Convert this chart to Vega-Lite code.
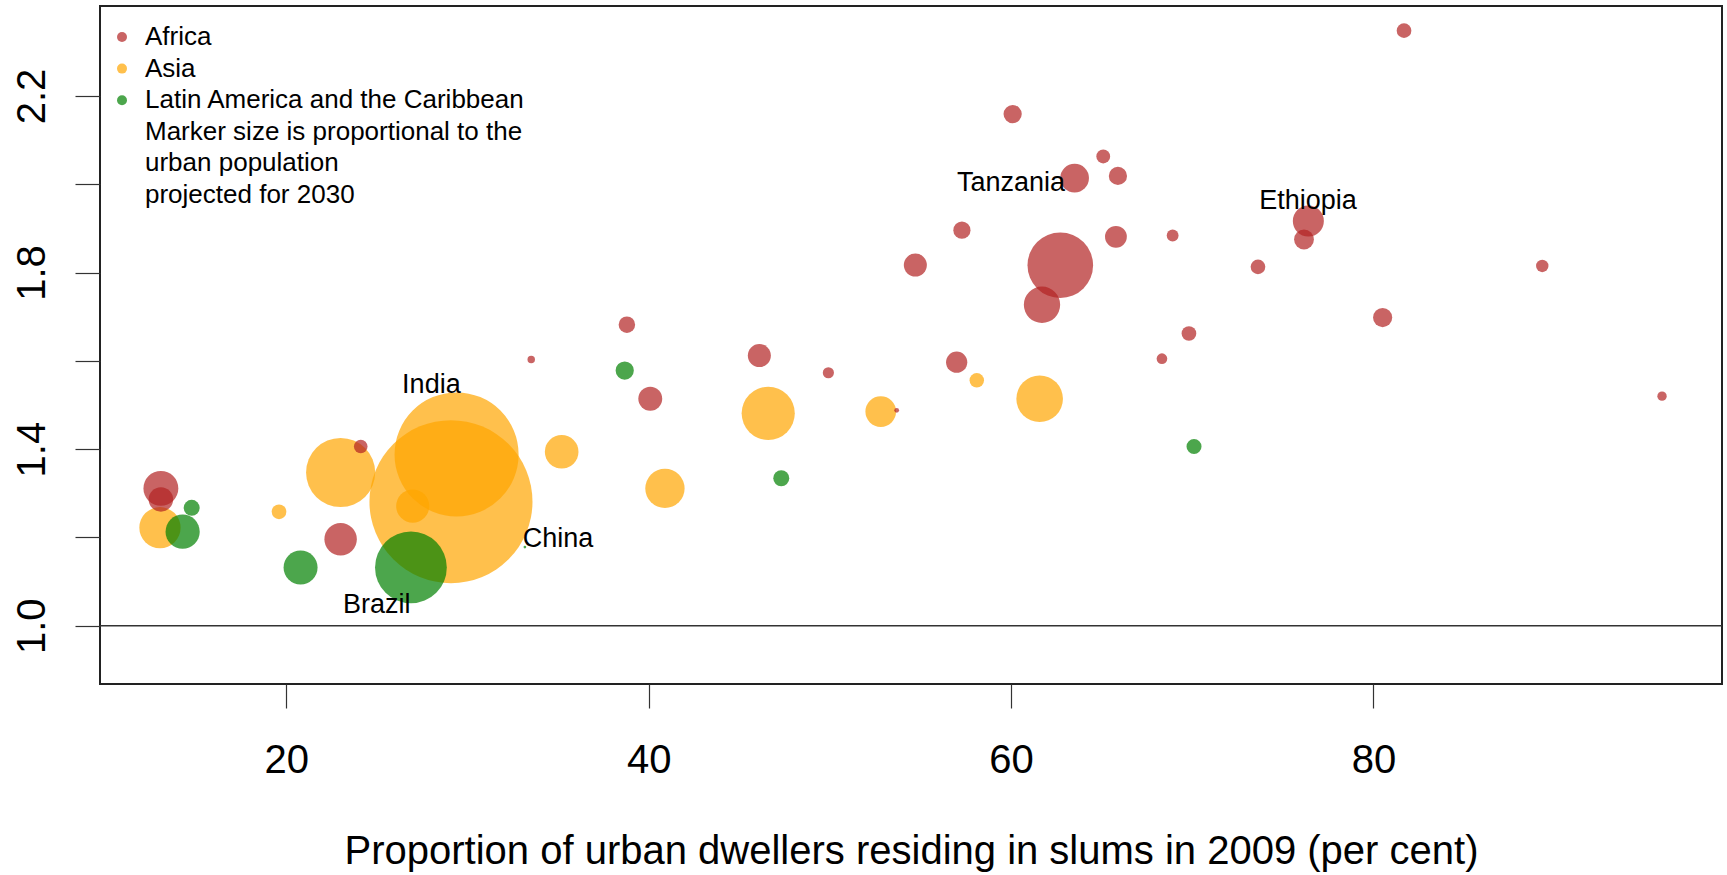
{
  "$schema": "https://vega.github.io/schema/vega-lite/v6.json",
  "width": 1622,
  "height": 678,
  "autosize": {"type": "none"},
  "padding": {"left": 100, "top": 6, "right": 5, "bottom": 191},
  "background": "white",
  "config": {
    "view": {"stroke": "#222222", "strokeWidth": 2},
    "font": "Liberation Sans",
    "axis": {"grid": false, "domain": false, "tickColor": "#333333", "tickWidth": 1.2, "labelColor": "black", "labelFont": "Liberation Sans", "titleFont": "Liberation Sans", "titleColor": "black", "titleFontWeight": "normal"}
  },
  "datasets": {
    "countries": [
      {"region": "Asia", "slum": 13.03, "growth": 1.222, "pop": 64.1},
      {"region": "Asia", "slum": 19.60, "growth": 1.258, "pop": 8.1},
      {"region": "Asia", "slum": 23.00, "growth": 1.347, "pop": 179.6},
      {"region": "Asia", "slum": 26.98, "growth": 1.271, "pop": 41.3},
      {"region": "Asia", "country": "China", "slum": 29.09, "growth": 1.281, "pop": 999.6},
      {"region": "Asia", "country": "India", "slum": 29.40, "growth": 1.388, "pop": 578.7},
      {"region": "Asia", "slum": 35.20, "growth": 1.394, "pop": 42.6},
      {"region": "Asia", "slum": 40.90, "growth": 1.311, "pop": 58.2},
      {"region": "Asia", "slum": 46.60, "growth": 1.481, "pop": 106.3},
      {"region": "Asia", "slum": 52.81, "growth": 1.485, "pop": 35.3},
      {"region": "Asia", "slum": 58.11, "growth": 1.556, "pop": 7.9},
      {"region": "Asia", "slum": 61.58, "growth": 1.514, "pop": 81.7},
      {"region": "Africa", "slum": 13.08, "growth": 1.311, "pop": 45.8},
      {"region": "Africa", "slum": 13.08, "growth": 1.286, "pop": 22.5},
      {"region": "Africa", "slum": 24.11, "growth": 1.406, "pop": 7.0},
      {"region": "Africa", "slum": 23.00, "growth": 1.196, "pop": 39.6},
      {"region": "Africa", "slum": 33.52, "growth": 1.603, "pop": 2.1},
      {"region": "Africa", "slum": 38.80, "growth": 1.682, "pop": 10.2},
      {"region": "Africa", "slum": 40.09, "growth": 1.514, "pop": 21.5},
      {"region": "Africa", "slum": 46.11, "growth": 1.612, "pop": 20.0},
      {"region": "Africa", "slum": 49.92, "growth": 1.573, "pop": 4.7},
      {"region": "Africa", "slum": 53.69, "growth": 1.488, "pop": 0.86},
      {"region": "Africa", "slum": 57.00, "growth": 1.597, "pop": 17.0},
      {"region": "Africa", "slum": 57.29, "growth": 1.896, "pop": 11.1},
      {"region": "Africa", "slum": 54.72, "growth": 1.817, "pop": 20.0},
      {"region": "Africa", "slum": 60.09, "growth": 2.159, "pop": 12.5},
      {"region": "Africa", "country": "Tanzania", "slum": 63.51, "growth": 2.014, "pop": 31.0},
      {"region": "Africa", "slum": 65.09, "growth": 2.063, "pop": 7.2},
      {"region": "Africa", "slum": 65.90, "growth": 2.019, "pop": 12.5},
      {"region": "Africa", "slum": 65.79, "growth": 1.881, "pop": 17.9},
      {"region": "Africa", "slum": 62.72, "growth": 1.8165, "pop": 161.7},
      {"region": "Africa", "slum": 61.71, "growth": 1.727, "pop": 49.6},
      {"region": "Africa", "slum": 68.92, "growth": 1.884, "pop": 5.3},
      {"region": "Africa", "slum": 73.63, "growth": 1.813, "pop": 8.1},
      {"region": "Africa", "slum": 76.17, "growth": 1.875, "pop": 14.8},
      {"region": "Africa", "country": "Ethiopia", "slum": 76.41, "growth": 1.917, "pop": 36.2},
      {"region": "Africa", "slum": 69.82, "growth": 1.662, "pop": 8.1},
      {"region": "Africa", "slum": 68.33, "growth": 1.605, "pop": 4.25},
      {"region": "Africa", "slum": 80.51, "growth": 1.698, "pop": 13.8},
      {"region": "Africa", "slum": 89.32, "growth": 1.815, "pop": 5.8},
      {"region": "Africa", "slum": 95.93, "growth": 1.520, "pop": 3.3},
      {"region": "Africa", "slum": 81.69, "growth": 2.348, "pop": 8.1},
      {"region": "Latin America and the Caribbean", "slum": 14.78, "growth": 1.267, "pop": 9.6},
      {"region": "Latin America and the Caribbean", "slum": 14.28, "growth": 1.213, "pop": 44.0},
      {"region": "Latin America and the Caribbean", "slum": 20.79, "growth": 1.132, "pop": 43.5},
      {"region": "Latin America and the Caribbean", "country": "Brazil", "slum": 26.88, "growth": 1.132, "pop": 193.7},
      {"region": "Latin America and the Caribbean", "slum": 38.68, "growth": 1.578, "pop": 12.5},
      {"region": "Latin America and the Caribbean", "slum": 47.32, "growth": 1.334, "pop": 9.6},
      {"region": "Latin America and the Caribbean", "slum": 70.10, "growth": 1.406, "pop": 8.5},
      {"region": "Latin America and the Caribbean", "slum": 33.17, "growth": 1.178, "pop": 0.27}
    ],
    "labels": [
      {"label": "Tanzania", "x": 60.0, "y": 1.9855},
      {"label": "Ethiopia", "x": 76.39, "y": 1.9433},
      {"label": "India", "x": 28.01, "y": 1.5265},
      {"label": "China", "x": 35.0, "y": 1.1783},
      {"label": "Brazil", "x": 25.0, "y": 1.0288}
    ]
  },
  "layer": [
    {
      "data": {"name": "countries"},
      "mark": {"type": "point", "filled": true, "shape": "circle", "opacity": 0.7, "strokeWidth": 0},
      "encoding": {
        "x": {
          "field": "slum", "type": "quantitative",
          "scale": {"domain": [9.72, 99.24], "nice": false, "zero": false},
          "axis": {
            "values": [20, 40, 60, 80],
            "title": "Proportion of urban dwellers residing in slums in 2009 (per cent)",
            "titleFontSize": 40, "titleBaseline": "alphabetic", "titleX": 811, "titleY": 179, "titleAlign": "center", "titleAnchor": "middle",
            "labelFontSize": 40, "labelBaseline": "alphabetic", "labelPadding": 64, "tickSize": 24,
            "labelFlush": false, "labelOverlap": false
          }
        },
        "y": {
          "field": "growth", "type": "quantitative",
          "scale": {"domain": [0.8679, 2.4039], "nice": false, "zero": false},
          "axis": {
            "values": [1, 1.2, 1.4, 1.6, 1.8, 2, 2.2],
            "format": ".1f",
            "labelExpr": "round(datum.value * 10) % 4 == 2 ? datum.label : ''",
            "title": null,
            "labelAngle": -90, "labelAlign": "center", "labelBaseline": "alphabetic",
            "labelPadding": 31, "tickSize": 25, "labelFontSize": 40,
            "labelFlush": false, "labelOverlap": false
          }
        },
        "color": {
          "field": "region", "type": "nominal",
          "scale": {
            "domain": ["Africa", "Asia", "Latin America and the Caribbean", "Marker size is proportional to the", "urban population", "projected for 2030"],
            "range": ["#b22222", "#ffa500", "#008000", "transparent", "transparent", "transparent"]
          },
          "legend": {
            "orient": "none", "legendX": 9, "legendY": 18, "title": null,
            "symbolType": "circle", "symbolSize": 100, "symbolOpacity": 0.7, "symbolStrokeWidth": 0,
            "labelFontSize": 26, "labelFont": "Liberation Sans", "labelColor": "black",
            "labelOffset": 10, "labelLimit": 1000, "rowPadding": 5.6, "padding": 0
          }
        },
        "size": {
          "field": "pop", "type": "quantitative",
          "scale": {"type": "linear", "domain": [0, 1000], "range": [0, 26590], "zero": true},
          "legend": null
        }
      }
    },
    {
      "data": {"values": [{}]},
      "mark": {"type": "rule", "color": "#333333", "strokeWidth": 1.5},
      "encoding": {"y": {"datum": 1, "type": "quantitative"}}
    },
    {
      "data": {"name": "labels"},
      "mark": {"type": "text", "fontSize": 27, "baseline": "alphabetic", "align": "center", "font": "Liberation Sans", "color": "black"},
      "encoding": {
        "x": {"field": "x", "type": "quantitative"},
        "y": {"field": "y", "type": "quantitative"},
        "text": {"field": "label"}
      }
    }
  ]
}
